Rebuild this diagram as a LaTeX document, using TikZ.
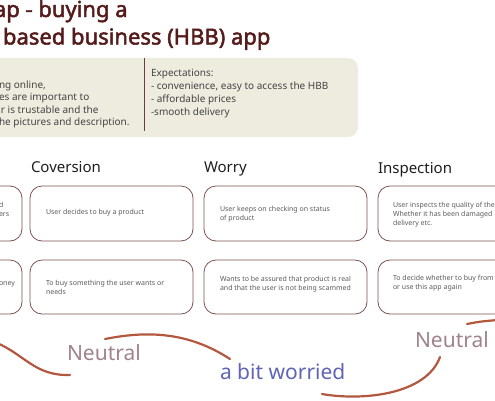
\documentclass[tikz,border=0pt]{standalone}
\usepackage{fontspec}
\setmainfont{Noto Sans}[AutoFakeBold=2.2]
\definecolor{titlec}{HTML}{561C1C}
\definecolor{bgc}{HTML}{EEEBDF}
\definecolor{divc}{HTML}{6B3F3F}
\definecolor{ctxtext}{HTML}{444444}
\definecolor{headc}{HTML}{1E1E1E}
\definecolor{boxc}{HTML}{7E5252}
\definecolor{boxtext}{HTML}{5A5A5A}
\definecolor{curvec}{HTML}{B3573F}
\definecolor{neutc}{HTML}{A0838A}
\definecolor{worryc}{HTML}{5F64B4}
\begin{document}
\begin{tikzpicture}[x=1pt,y=-1pt,
  every node/.style={inner sep=0pt,outer sep=0pt},
  titletext/.style={anchor=base west,text=titlec,font=\fontsize{22}{26}\selectfont\bfseries},
  ctxtxt/.style={anchor=base west,text=ctxtext,align=left,font=\fontsize{10}{12.8}\selectfont},
  headtxt/.style={anchor=base west,text=headc,font=\fontsize{15}{18}\selectfont},
  stagebox/.style={draw=boxc,line width=0.8pt,rounded corners=12pt,minimum width=163pt,anchor=north west},
  rowone/.style={stagebox,minimum height=55pt},
  rowtwo/.style={stagebox,minimum height=54pt},
  boxtxt/.style={anchor=base west,text=boxtext,align=left,font=\fontsize{7}{8.6}\selectfont},
  mood/.style={line width=2.2pt,draw=curvec,line cap=round},
  moodtxt/.style={anchor=base west,font=\fontsize{21}{24}\selectfont}
]
\useasboundingbox (0,0) rectangle (495,400);
\clip (0,0) rectangle (495,400);

% title
\node[titletext] (t1) at (-6,17) {ap - buying a};
\node[titletext] (t2) at (3,44.5) {based business (HBB) app};

% context box
\node[fill=bgc,rounded corners=10pt,minimum width=460pt,minimum height=79pt,anchor=north west] (ctx) at (-102,58) {};
\coordinate (dtop) at (144,58);
\coordinate (dbot) at (144,131);
\draw[divc,line width=1pt] (dtop) -- (dbot);
\node[ctxtxt] (c1) at (-1,88) {ng online,};
\node[ctxtxt] (c2) at (-1,100.5) {es are important to};
\node[ctxtxt] (c3) at (1,113) {r is trustable and the};
\node[ctxtxt] (c4) at (-1,125.5) {he pictures and description.};
% (multi-line nodes are placed by the baseline of their last line)
\node[ctxtxt] (e1) at (151,115) {Expectations:\\- convenience, easy to access the HBB\\- affordable prices\\-smooth delivery};

% headers
\node[headtxt] (h1) at (31,172.5) {Coversion};
\node[headtxt] (h2) at (204,172.5) {Worry};
\node[headtxt] (h3) at (378,173.5) {Inspection};

% boxes row 1
\node[rowone] (b10) at (-141,186) {};
\node[rowone] (b11) at (30,186) {};
\node[rowone] (b12) at (204,186) {};
\node[rowone] (b13) at (378,186) {};
% boxes row 2
\node[rowtwo] (b20) at (-141,260) {};
\node[rowtwo] (b21) at (30,260) {};
\node[rowtwo] (b22) at (204,260) {};
\node[rowtwo] (b23) at (378,260) {};

% box texts
\node[boxtxt] (x10) at (-1,216) {d\\ers};
\node[boxtxt] (x11) at (46,214.5) {User decides to buy a product};
\node[boxtxt] (x12) at (220,220) {User keeps on checking on status\\of product};
\node[boxtxt] (x13) at (393,225) {User inspects the quality of the\\Whether it has been damaged\\delivery etc.};
\node[boxtxt] (x20) at (-1,285.5) {oney};
\node[boxtxt] (x21) at (46,294) {To buy something the user wants or\\needs};
\node[boxtxt] (x22) at (220,290) {Wants to be assured that product is real\\and that the user is not being scammed};
\node[boxtxt] (x23) at (393,289) {To decide whether to buy from\\or use this app again};

% mood curves
\coordinate (a0) at (-3,343);
\coordinate (a1) at (70,375);
\draw[mood] (a0) .. controls (25,355) and (35,376) .. (a1);
\coordinate (m0) at (105,339);
\coordinate (m1) at (230,359);
\draw[mood] (m0) .. controls (150,330) and (190,333) .. (m1);
\coordinate (n0) at (322,394);
\coordinate (n1) at (440,357);
\draw[mood] (n0) .. controls (362,401) and (426,395) .. (n1);
\coordinate (p0) at (467,324);
\coordinate (p1) at (498,320);
\draw[mood] (p0) .. controls (480,321.5) .. (p1);

% mood labels
\node[moodtxt,text=neutc] (l1) at (67,360.5) {Neutral};
\node[moodtxt,text=worryc] (l2) at (220,379.5) {a bit worried};
\node[moodtxt,text=neutc] (l3) at (415,347.5) {Neutral};
\end{tikzpicture}
\end{document}
